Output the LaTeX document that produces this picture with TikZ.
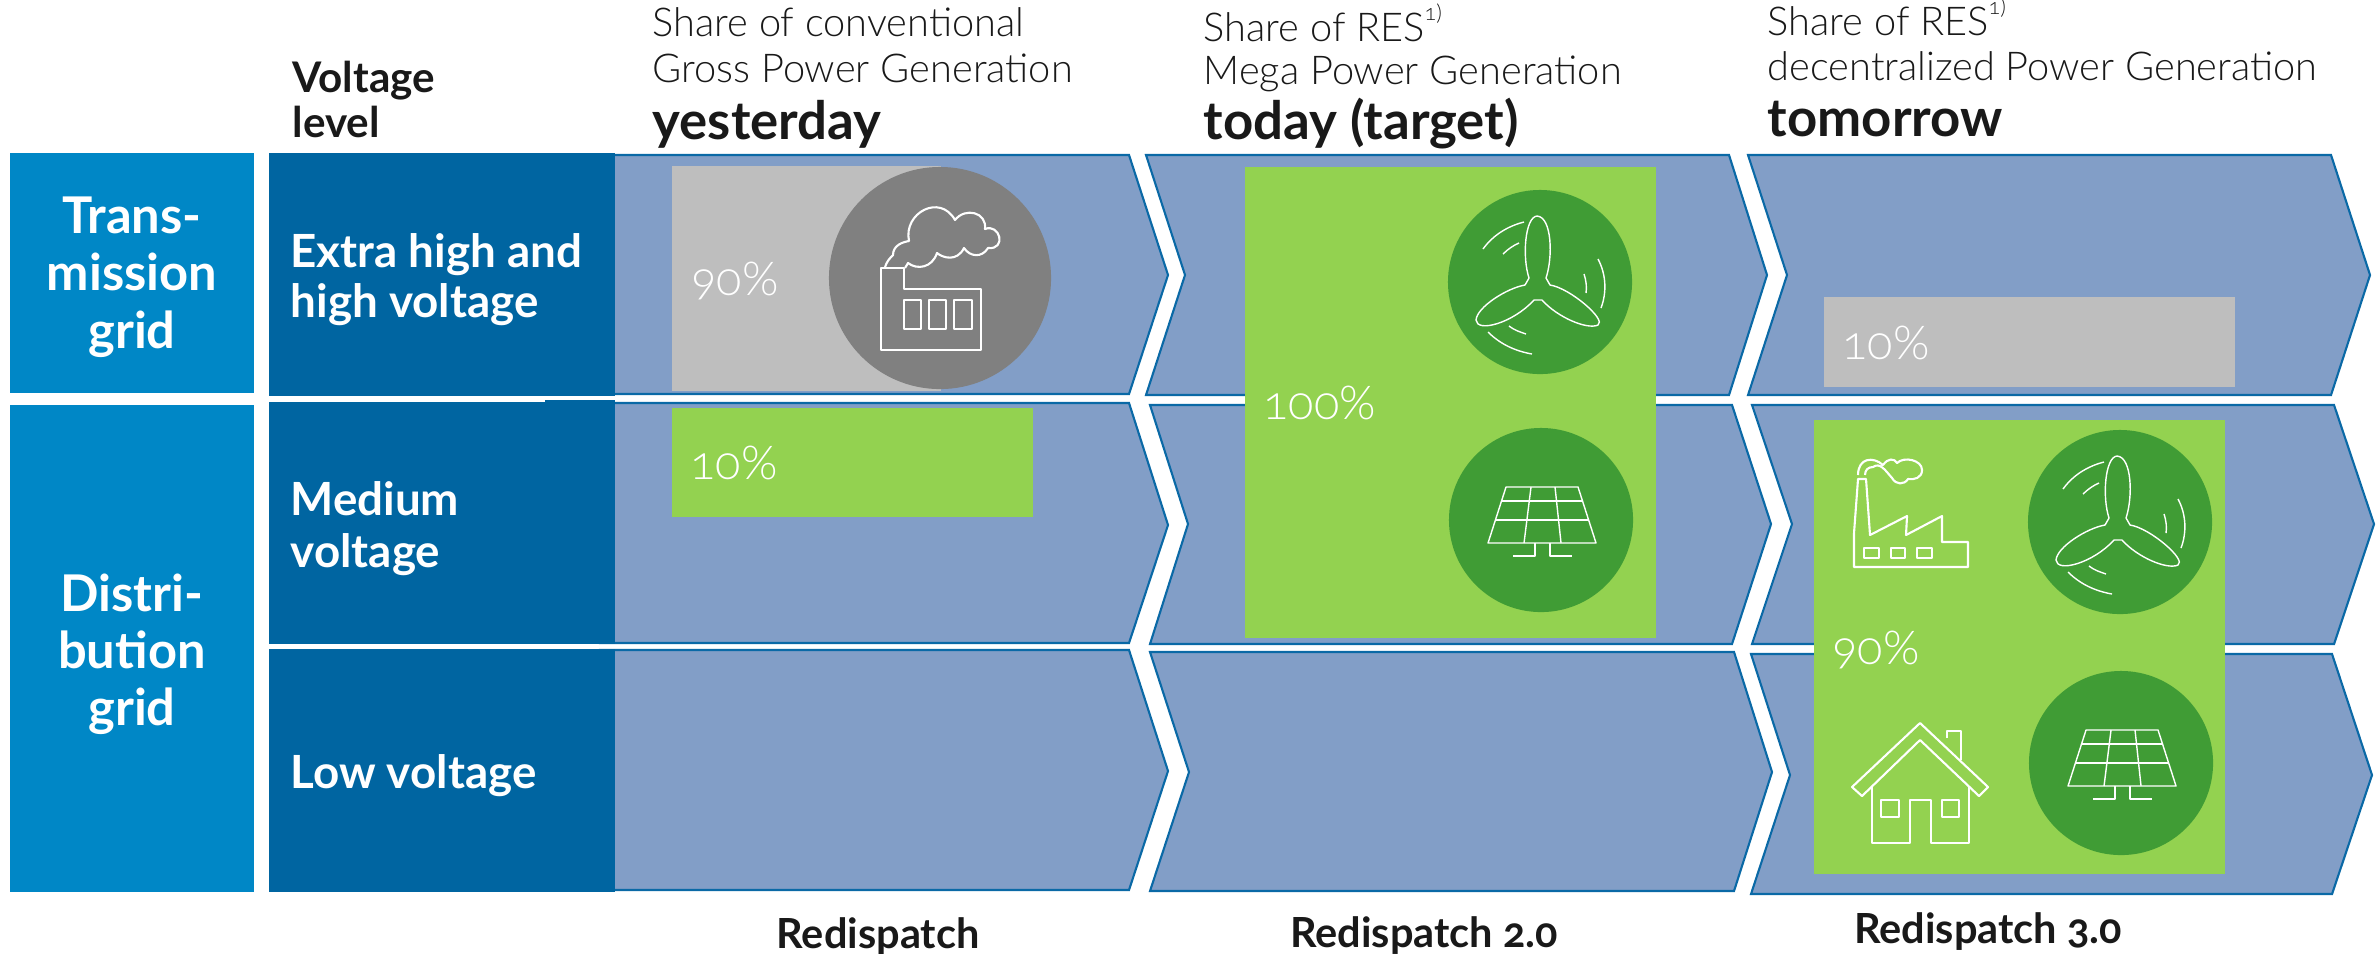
\documentclass[tikz,border=0pt]{standalone}
\usepackage{fontspec}
\setmainfont{Lato}[Numbers=OldStyle]
\newfontfamily\lightfont{Lato Light}[Numbers=OldStyle]
\newcommand{\resnote}{\raisebox{1.05ex}{\fontsize{6.2}{7}\selectfont 1)}}
\definecolor{chevronblue}{HTML}{829EC7}
\definecolor{chevronline}{HTML}{0A69A6}
\definecolor{leveldark}{HTML}{0065A1}
\definecolor{gridlight}{HTML}{0087C6}
\definecolor{sharegrey}{HTML}{BEBEBE}
\definecolor{circlegrey}{HTML}{808080}
\definecolor{sharegreen}{HTML}{93D250}
\definecolor{circlegreen}{HTML}{409C35}
\tikzset{
  chevron/.style={fill=chevronblue,draw=chevronline,line width=0.6pt},
  gridbox/.style={fill=gridlight},
  levelbox/.style={fill=leveldark},
  icon/.style={draw=white,line width=0.6pt,line join=round},
  iconthin/.style={draw=white,line width=0.4pt,line join=round},
  sharecircle/.style={circle,minimum size=1.84cm,inner sep=0pt},
  gridtext/.style={text=white,font=\bfseries\fontsize{14.4}{17}\selectfont,inner sep=0pt,anchor=base},
  leveltext/.style={text=white,font=\bfseries\fontsize{13}{15}\selectfont,inner sep=0pt,anchor=base west},
  headtext/.style={text=black!90,font=\lightfont\fontsize{11.3}{14}\selectfont,inner sep=0pt,anchor=base west},
  daytext/.style={text=black!90,font=\bfseries\fontsize{15}{18}\selectfont,inner sep=0pt,anchor=base west},
  boldtext/.style={text=black!90,font=\bfseries\fontsize{12}{14}\selectfont,inner sep=0pt,anchor=base west},
  sharetext/.style={text=white,font=\lightfont\fontsize{13.3}{16}\selectfont,inner sep=0pt,anchor=base west},
  endtext/.style={text=black!90,font=\bfseries\fontsize{11.8}{15}\selectfont,inner sep=0pt,anchor=base},
  factorybig/.pic={
    \draw[icon] (-59,-10) -- (-36,-10) -- (-36,11) -- (41,11) -- (41,72) -- (-59,72) -- cycle;
    \draw[icon] (-36,22) rectangle (-19,51) (-11,22) rectangle (6,51) (14,22) rectangle (32,51);
    \draw[icon] (-55,-11) .. controls (-53,-17) and (-50,-20) .. (-47,-23)
      .. controls (-47,-33) and (-37,-36) .. (-31,-37)
      .. controls (-37,-65) and (0,-85) .. (15,-58)
      .. controls (25,-71) and (47,-66) .. (45,-49)
      .. controls (60,-55) and (67,-28) .. (48,-30)
      .. controls (42,-20) and (30,-21) .. (24,-30)
      .. controls (17,-16) and (3,-20) .. (-3,-25)
      .. controls (-8,-10) and (-23,-8) .. (-32,-15) -- (-35,-10);
  },
  windicon/.pic={
    \draw[iconthin] (-11,-4) .. controls (-18,-25) and (-15,-65) .. (-3,-66)
      .. controls (12,-65) and (13,-25) .. (6,-4) -- (10,3)
      .. controls (30,6) and (67,38) .. (58,43)
      .. controls (47,48) and (17,35) .. (2,18) -- (-6,18)
      .. controls (-27,41) and (-63,51) .. (-64,38)
      .. controls (-63,25) and (-33,6) .. (-15,3) -- cycle;
    \draw[iconthin] (-57,-33) .. controls (-47,-47) and (-32,-56) .. (-16,-60);
    \draw[iconthin] (-37,-28) .. controls (-32,-33) and (-26,-37) .. (-21,-39);
    \draw[iconthin] (58,-23) .. controls (66,-8) and (67,10) .. (61,26);
    \draw[iconthin] (44,-8) .. controls (46,-2) and (47,5) .. (46,11);
    \draw[iconthin] (-52,50) .. controls (-40,62) and (-25,69) .. (-8,72);
    \draw[iconthin] (-31,44) .. controls (-26,48) and (-20,50) .. (-14,52);
  },
  solaricon/.pic={
    \draw[iconthin] (-35,-33) -- (37,-33) -- (55,23) -- (-53,23) -- cycle;
    \draw[iconthin] (-39.5,-19) -- (41.5,-19) (-45.6,0) -- (47.6,0);
    \draw[iconthin] (-10,-33) -- (-17,23) (14,-33) -- (20,23);
    \draw[iconthin] (-6,23) -- (-6,36) -- (-28,36) (9,23) -- (9,36) -- (31,36);
  },
  factorysmall/.pic={
    \draw[icon] (34,147) -- (34,113) -- (38,59) -- (46,59) -- (50,115) -- (87,96) -- (86,115)
      -- (122,96) -- (122,122) -- (148,122) -- (148,147) -- cycle;
    \draw[icon] (44,128) rectangle (59,138) (71,128) rectangle (85,138) (97,128) rectangle (112,138);
    \draw[icon] (38,55) .. controls (38,38) and (53,36) .. (63,45)
      .. controls (68,38) and (74,38) .. (77,43) .. controls (84,36) and (102,40) .. (102,50)
      .. controls (102,58) and (94,60) .. (88,59) .. controls (84,65) and (76,65) .. (72,58)
      .. controls (65,50) and (60,42) .. (53,47) .. controls (48,47) and (45,50) .. (45,55);
  },
  houseicon/.pic={
    \draw[icon] (100,43) -- (168,107) -- (159,116) -- (100,60) -- (42,116) -- (32,107) -- cycle;
    \draw[icon] (52,107) -- (52,163) -- (90,163) -- (90,120) -- (111,120) -- (111,163) -- (149,163) -- (149,107);
    \draw[icon] (61,120) rectangle (79,137) (122,120) rectangle (139,137);
    \draw[icon] (127,58) -- (127,51) -- (141,51) -- (141,80);
  }
}
\begin{document}
\begin{tikzpicture}[x=0.01cm,y=-0.01cm]
  \useasboundingbox (0,0) rectangle (2380,953);
  % chevrons, row by row
  \foreach \xl/\xn/\xs/\xt/\yt/\ym/\yb in {
    600/600/1129/1168/155/275/394, 600/600/1129/1168/403/525/643, 600/600/1129/1168/650/771/890,
    1146/1185/1729/1767/155/275/395, 1150/1188/1732/1771/405/524/644, 1150/1189/1734/1772/652/772/891,
    1748/1787/2331/2370/155/275/395, 1752/1792/2334/2374/405/524/644, 1751/1790/2332/2372/654/775/894}
    \draw[chevron] (\xl,\yt) -- (\xs,\yt) -- (\xt,\ym) -- (\xs,\yb) -- (\xl,\yb) -- (\xn,\ym) -- cycle;
  % left columns
  \fill[gridbox] (10,153) rectangle (254,393);
  \fill[gridbox] (10,405) rectangle (254,892);
  \fill[levelbox] (269,153) rectangle (615,396);
  \fill[levelbox] (269,402) rectangle (615,644);
  \fill[levelbox] (545,400) rectangle (615,402);
  \fill[levelbox] (269,649) rectangle (615,892);
  % shares
  \fill[sharegrey] (672,166) rectangle (941,391);
  \fill[sharegreen] (672,408) rectangle (1033,517);
  \fill[sharegreen] (1245,167) rectangle (1656,638);
  \fill[sharegrey] (1824,297) rectangle (2235,387);
  \fill[sharegreen] (1814,420) rectangle (2225,874);
  \node[sharecircle,fill=circlegrey,minimum size=2.22cm] (coalYesterday) at (940,278) {};
  \node[sharecircle,fill=circlegreen] (windToday) at (1540,282) {};
  \node[sharecircle,fill=circlegreen] (solarToday) at (1541,520) {};
  \node[sharecircle,fill=circlegreen] (windTomorrow) at (2120,522) {};
  \node[sharecircle,fill=circlegreen] (solarTomorrow) at (2121,763) {};
  \pic at (coalYesterday) {factorybig};
  \pic at (windToday) {windicon};
  \pic at (solarToday) {solaricon};
  \pic at (windTomorrow) {windicon};
  \pic at (solarTomorrow) {solaricon};
  \pic at (1820,420) {factorysmall};
  \pic at (1820,680) {houseicon};
  % grid and level labels
  \node[gridtext] (trans) at (132,233) {Trans-};
  \node[gridtext] (mission) at (132,290) {mission};
  \node[gridtext] (gridT) at (132,348) {grid};
  \node[gridtext] (distri) at (132,611) {Distri-};
  \node[gridtext] (bution) at (132,668) {bution};
  \node[gridtext] (gridD) at (132,725) {grid};
  \node[boldtext] (voltage) at (292,92) {Voltage};
  \node[boldtext] (level) at (292,137) {level};
  \node[leveltext] (extra) at (290,267) {Extra high and};
  \node[leveltext] (high) at (290,317) {high voltage};
  \node[leveltext] (medium) at (290,515) {Medium};
  \node[leveltext] (mediumV) at (290,567) {voltage};
  \node[leveltext] (low) at (290,788) {Low voltage};
  % headings
  \node[headtext] (headA) at (652,36) {Share of conventional};
  \node[headtext] (headB) at (652,82) {Gross Power Generation};
  \node[daytext] (yesterday) at (652,139) {yesterday};
  \node[headtext] (headC) at (1203,41) {Share of RES\resnote};
  \node[headtext] (headD) at (1203,84) {Mega Power Generation};
  \node[daytext] (today) at (1203,139) {today (target)};
  \node[headtext] (headE) at (1767,35) {Share of RES\resnote};
  \node[headtext] (headF) at (1767,80) {decentralized Power Generation};
  \node[daytext] (tomorrow) at (1767,136) {tomorrow};
  % percentages
  \node[sharetext] (shareA) at (691,295) {90\%};
  \node[sharetext] (shareB) at (690,479) {10\%};
  \node[sharetext] (shareC) at (1263,419) {100\%};
  \node[sharetext] (shareD) at (1842,359) {10\%};
  \node[sharetext] (shareE) at (1832,664) {90\%};
  % bottom labels
  \node[endtext] (redispatchA) at (878,948) {Redispatch};
  \node[endtext] (redispatchB) at (1424,947) {Redispatch 2.0};
  \node[endtext] (redispatchC) at (1988,943) {Redispatch 3.0};
\end{tikzpicture}
\end{document}
